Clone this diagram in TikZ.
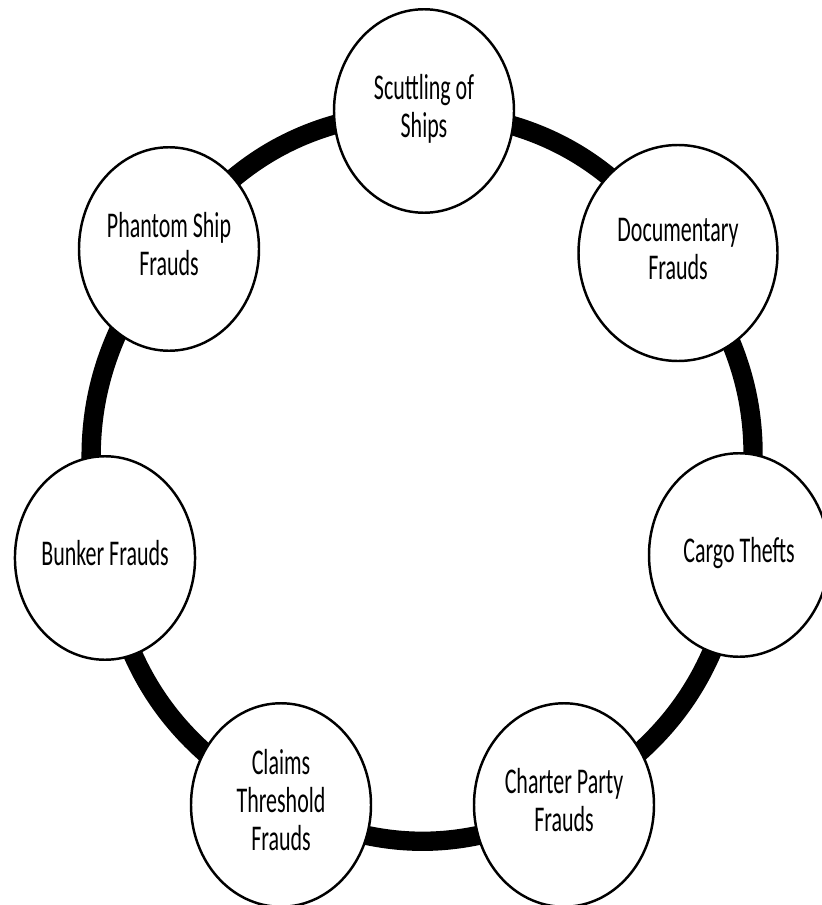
\documentclass[tikz,border=0pt]{standalone}
\usepackage{graphicx}
\usepackage{fontspec}
\setmainfont{Carlito}
\usetikzlibrary{shapes.geometric,backgrounds}

\newcommand{\fraudlbl}[1]{\scalebox{1}[1.65]{\begin{tabular}{@{}c@{}}#1\end{tabular}}}

\begin{document}
\begin{tikzpicture}[
  fraud/.style={ellipse, draw, line width=1.4pt, fill=white, inner sep=0pt,
    minimum width=3.6cm, minimum height=4.07cm, font=\fontsize{12.5}{13}\selectfont},
  ring/.style={line width=11pt}]
\useasboundingbox (0,0) rectangle (16.42,-18.1);
\node[fraud] (scut) at (8.48,-2.22) {\fraudlbl{Scuttling of\\Ships}};
\node[fraud, minimum width=3.98cm, minimum height=4.32cm] (doc) at (13.56,-5.06) {\fraudlbl{Documentary\\Frauds}};
\node[fraud] (cargo) at (14.78,-11.1) {\fraudlbl{Cargo Thefts}};
\node[fraud] (charter) at (11.28,-16.1) {\fraudlbl{Charter Party\\Frauds}};
\node[fraud] (claims) at (5.62,-16.1) {\fraudlbl{Claims\\Threshold\\Frauds}};
\node[fraud] (bunker) at (2.1,-11.16) {\fraudlbl{Bunker Frauds}};
\node[fraud] (phantom) at (3.38,-4.98) {\fraudlbl{Phantom Ship\\Frauds}};
% thick ring behind the circles
\begin{scope}[on background layer]
\foreach \a/\b in {scut/doc,doc/cargo,cargo/charter,charter/claims,claims/bunker,bunker/phantom,phantom/scut}
  \draw[ring] (\a.center) to[bend left=26] (\b.center);
\end{scope}
\end{tikzpicture}
\end{document}
